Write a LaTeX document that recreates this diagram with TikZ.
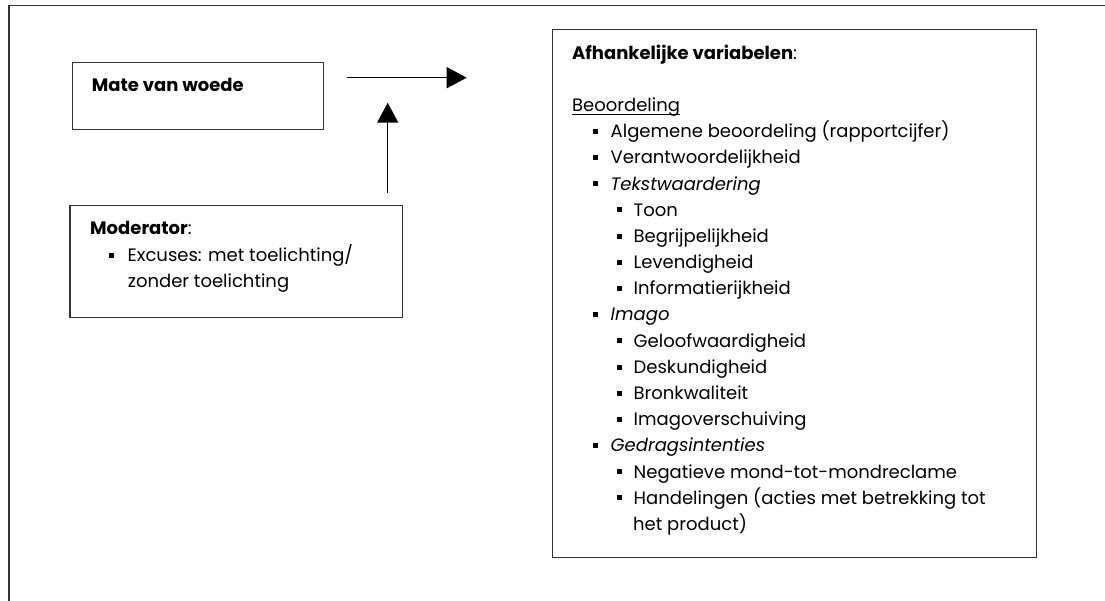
\documentclass[tikz,border=0pt]{standalone}
\usepackage{fontspec}
\setmainfont{Poppins}
\usetikzlibrary{arrows.meta}

% body text size and the square list bullet
\newcommand{\bodyfont}{\fontsize{18pt}{26pt}\selectfont}
\newcommand{\sqbul}{\rule[3.8pt]{5pt}{5pt}}

\begin{document}
\begin{tikzpicture}[
  x=1pt, y=-1pt,
  frame/.style={draw=black!80, line width=1.2pt},
  box/.style={draw=black!80, line width=1.2pt, inner sep=0pt, anchor=north west},
  txt/.style={anchor=base west, inner sep=0pt, font=\bodyfont},
  lvla/.style={txt},
  lvlb/.style={txt},
  arr/.style={line width=1.5pt, -{Triangle[length=20pt,width=21pt]}}
]
\useasboundingbox (0,0) rectangle (1105,601);

% page frame (runs off the right and bottom edges)
\draw[frame] (9,620) -- (9,5.5) -- (1120,5.5);

% independent variable
\node[box, minimum width=251pt, minimum height=66.7pt] (cause) at (71.7,62) {};
\node[txt] (causelbl) at (91.7,91.7) {\bfseries Mate van woede};

% moderator
\node[box, minimum width=332.4pt, minimum height=112pt] (moder) at (69.3,204.7) {};
\node[txt] (moderhd) at (90,234.3) {\textbf{Moderator}:};
\node[txt] (moder1) at (109,261.7) {\sqbul\hspace{13.5pt}Excuses: met toelichting/};
\node[txt] (moder2) at (127.7,287.5) {zonder toelichting};

% dependent variables
\node[box, minimum width=483.7pt, minimum height=527.4pt] (vars) at (552.2,29.3) {};
\node[txt] (v0) at (572,59.3) {\textbf{Afhankelijke variabelen}:};
\node[txt] (v2) at (572,111.6) {Beoordeling};
\draw[line width=0.9pt] ([yshift=-3pt]v2.base west) -- ([yshift=-3pt]v2.base east);
\node[lvla] (v3)  at (592.5,137.8) {\sqbul\hspace{13pt}Algemene beoordeling (rapportcijfer)};
\node[lvla] (v4)  at (592.5,164.0) {\sqbul\hspace{13pt}Verantwoordelijkheid};
\node[lvla] (v5)  at (592.5,190.2) {\sqbul\hspace{13pt}\textit{Tekstwaardering}};
\node[lvlb] (v6)  at (616.5,216.3) {\sqbul\hspace{12pt}Toon};
\node[lvlb] (v7)  at (616.5,242.5) {\sqbul\hspace{12pt}Begrijpelijkheid};
\node[lvlb] (v8)  at (616.5,268.7) {\sqbul\hspace{12pt}Levendigheid};
\node[lvlb] (v9)  at (616.5,294.8) {\sqbul\hspace{12pt}Informatierijkheid};
\node[lvla] (v10) at (592.5,321.0) {\sqbul\hspace{13pt}\textit{Imago}};
\node[lvlb] (v11) at (616.5,347.2) {\sqbul\hspace{12pt}Geloofwaardigheid};
\node[lvlb] (v12) at (616.5,373.3) {\sqbul\hspace{12pt}Deskundigheid};
\node[lvlb] (v13) at (616.5,399.5) {\sqbul\hspace{12pt}Bronkwaliteit};
\node[lvlb] (v14) at (616.5,425.7) {\sqbul\hspace{12pt}Imagoverschuiving};
\node[lvla] (v15) at (592.5,451.9) {\sqbul\hspace{13pt}\textit{Gedragsintenties}};
\node[lvlb] (v16) at (616.5,478.0) {\sqbul\hspace{12pt}Negatieve mond-tot-mondreclame};
\node[lvlb] (v17) at (616.5,504.2) {\sqbul\hspace{12pt}Handelingen (acties met betrekking tot};
\node[txt]  (v18) at (633,530.4) {het product)};

% effect and moderation arrows
\coordinate (effS) at (346.7,77.7);
\coordinate (effE) at (466.7,77.7);
\coordinate (modS) at (387.7,193);
\coordinate (modE) at (387.7,102.7);
\draw[arr] (effS) -- (effE);
\draw[arr] (modS) -- (modE);
\end{tikzpicture}
\end{document}
